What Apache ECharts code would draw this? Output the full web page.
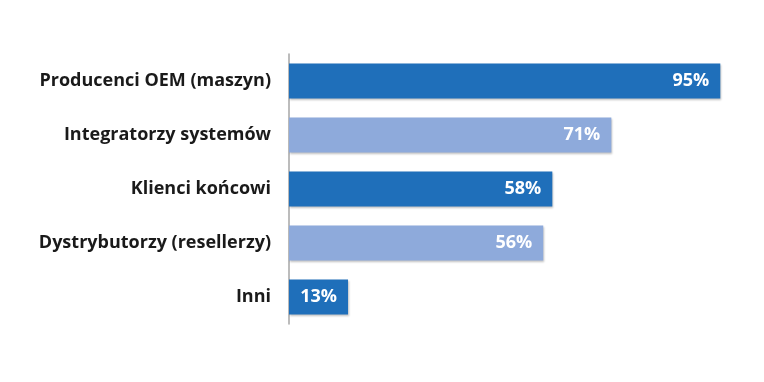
<!DOCTYPE html>
<html><head><meta charset="utf-8">
<script src="https://cdn.jsdelivr.net/npm/echarts@6/dist/echarts.min.js"></script>
<style>html,body{margin:0;padding:0;background:#fff}#c{width:764px;height:382px}</style>
</head><body><div id="c"></div>
<script>
const categories = ['Producenci OEM (maszyn)', 'Integratorzy systemów', 'Klienci końcowi', 'Dystrybutorzy (resellerzy)', 'Inni'];
const values = [95, 71, 58, 56, 13];
const colors = ['#1f6fba', '#8eaadb', '#1f6fba', '#8eaadb', '#1f6fba'];

const chart = echarts.init(document.getElementById('c'));
chart.setOption({
  animation: false,
  grid: { left: 289, right: 21, top: 54, bottom: 58, containLabel: false },
  xAxis: { type: 'value', min: 0, max: 100, show: false },
  yAxis: {
    type: 'category', inverse: true, data: categories,
    axisLine: { show: true, lineStyle: { color: '#a6a6a6', width: 1.5 } },
    axisTick: { show: false },
    axisLabel: { color: '#1a1a1a', fontSize: 18, fontWeight: 'bold', fontFamily: 'Open Sans', margin: 18 }
  },
  series: [{
    type: 'bar', barWidth: 35,
    data: values.map((v, i) => ({ value: v, itemStyle: { color: colors[i] } })),
    itemStyle: { shadowColor: 'rgba(0,0,0,0.25)', shadowBlur: 2, shadowOffsetX: 1, shadowOffsetY: 1 },
    label: { show: true, position: 'insideRight', offset: [-6, 0], formatter: '{c}%', color: '#fff', fontSize: 18, fontWeight: 'bold', fontFamily: 'Open Sans' }
  }]
});
</script></body></html>
